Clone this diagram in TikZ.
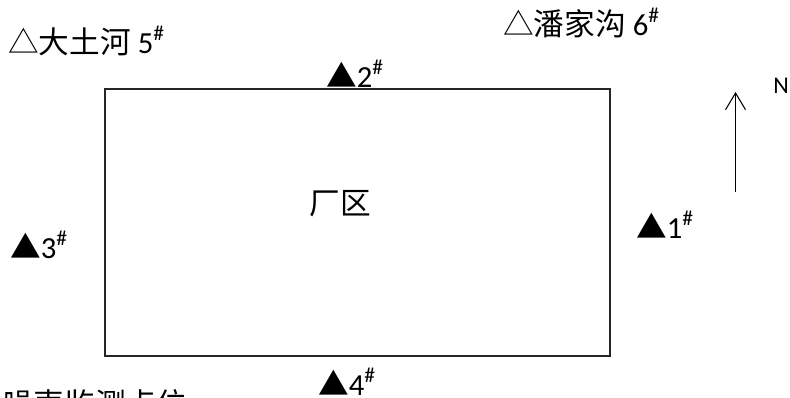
\documentclass[tikz,border=0pt]{standalone}
\usepackage{fontspec}
\setmainfont{Carlito}
\newfontfamily\cjk{Noto Sans CJK SC}
\usetikzlibrary{arrows.meta}
\tikzset{
  lbl/.style={anchor=base west, inner sep=0pt, font=\fontsize{23}{27}\selectfont},
  nlbl/.style={anchor=base west, inner sep=0pt, font=\fontsize{18}{22}\selectfont},
  box/.style={draw=black!85, line width=1.5pt, inner sep=0pt, minimum width=378.75pt, minimum height=200.25pt},
  northarrow/.style={line width=0.8pt, -{Straight Barb[length=12.5pt,width=15pt,line width=0.8pt]}}
}
\newcommand{\shp}{\textsuperscript{\#}}
\begin{document}
\begin{tikzpicture}[x=0.75pt,y=-0.75pt]
\useasboundingbox (0,0) rectangle (790,397);
\clip (0,0) rectangle (790,397);
\node[box] (plant) at (357,222.5) {};
\node[lbl, anchor=center] (plantname) at (340,204) {\cjk 厂区};
\node[lbl] (p5) at (8,53) {{\cjk △大土河} 5\shp};
\node[lbl] (p6) at (503,35) {{\cjk △潘家沟} 6\shp};
\node[lbl] (p2) at (326,87) {{\cjk ▲}2\shp};
\node[lbl] (p1) at (636,238) {{\cjk ▲}1\shp};
\node[lbl] (p3) at (10,258) {{\cjk ▲}3\shp};
\node[lbl] (p4) at (318,395) {{\cjk ▲}4\shp};
\node[lbl, anchor=north west] (legend) at (3,389) {\cjk 噪声监测点位};
\node[nlbl] (n) at (773,93) {N};
\coordinate (ns) at (735.5,192);
\coordinate (nn) at (735.5,92);
\draw[northarrow] (ns) -- (nn);
\end{tikzpicture}
\end{document}
